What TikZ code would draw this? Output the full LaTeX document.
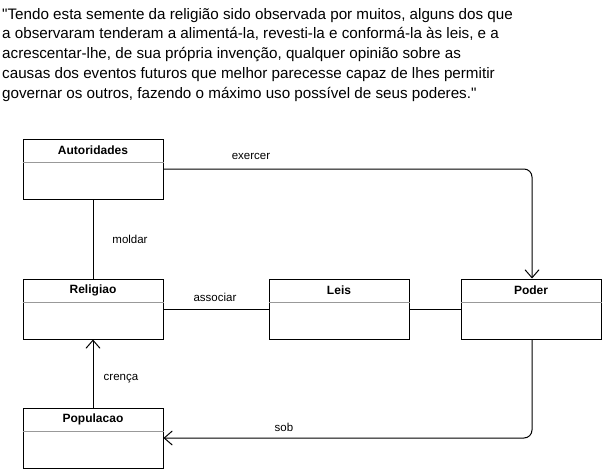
\documentclass[tikz,border=0pt]{standalone}
\usepackage{fontspec}
\setmainfont{Liberation Sans}[Ligatures=TeXOff]
\usetikzlibrary{arrows.meta}
\begin{document}
\begin{tikzpicture}[x=1pt,y=-1pt,
  cls/.style={draw=black,line width=1pt,fill=white,minimum width=140pt,minimum height=60pt,inner sep=0pt},
  ttl/.style={font=\bfseries\fontsize{12}{14}\selectfont,anchor=center},
  lbl/.style={font=\fontsize{11.5}{13}\selectfont,anchor=center},
  conn/.style={line width=1pt,rounded corners=8pt},
  arr/.style={conn,-{Straight Barb[length=8pt,width=14pt,line width=1pt]}}
]
\useasboundingbox (0,0) rectangle (602,469);
\node[anchor=north west,align=left,inner sep=0pt,font=\fontsize{15.2}{19.75}\selectfont] (quote) at (2,8) {"Tendo esta semente da religião sido observada por muitos, alguns dos que\\a observaram tenderam a alimentá-la, revesti-la e conformá-la às leis, e a\\acrescentar-lhe, de sua própria invenção, qualquer opinião sobre as\\causas dos eventos futuros que melhor parecesse capaz de lhes permitir\\governar os outros, fazendo o máximo uso possível de seus poderes."};
% boxes
\node[cls] (aut) at (93,169) {};
\node[cls] (rel) at (93,309) {};
\node[cls] (leis) at (339,309) {};
\node[cls] (pod) at (531,309) {};
\node[cls,minimum height=60pt] (pop) at (93,438) {};
\foreach \n/\t in {aut/Autoridades,rel/Religiao,leis/Leis,pod/Poder,pop/Populacao}{
  \draw[gray!80,line width=1pt] ([yshift=-24pt]\n.north west) -- ([yshift=-24pt]\n.north east);
  \node[ttl] at ([yshift=-11.5pt]\n.north) {\t};
}
% connectors
\coordinate (c1) at (532,169);
\draw[arr] (aut.east) -- (c1) -- (pod.north -| c1);
\draw[conn] (aut.south) -- (rel.north);
\draw[conn] (rel.east) -- (leis.west);
\draw[conn] (leis.east) -- (pod.west);
\coordinate (c2) at (532,438);
\draw[arr] (pod.south -| c2) -- (c2) -- (pop.east);
\draw[arr] (pop.north) -- (rel.south);
% labels
\node[lbl] (l1) at (251,156) {exercer};
\node[lbl] (l2) at (130,239) {moldar};
\node[lbl] (l3) at (215,297) {associar};
\node[lbl] (l4) at (121,379) {crença};
\node[lbl] (l5) at (284,427) {sob};
\end{tikzpicture}
\end{document}
